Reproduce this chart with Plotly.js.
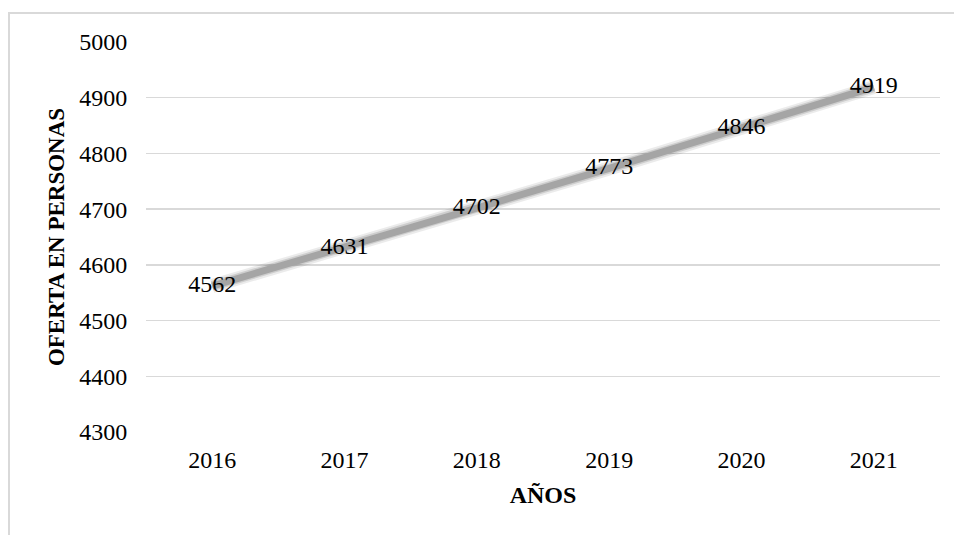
<!DOCTYPE html>
<html>
<head>
<meta charset="utf-8">
<script src="https://cdn.plot.ly/plotly-3.0.1.min.js"></script>
<style>
  html, body { margin: 0; padding: 0; background: #ffffff; }
  #frame { position: absolute; left: 8px; top: 12px; width: 1000px; height: 600px;
           border-left: 2px solid #d9d9d9; border-top: 2px solid #d9d9d9; box-sizing: border-box; }
  #chart { position: absolute; left: 0; top: 0; width: 954px; height: 535px; }
</style>
</head>
<body>
<div id="frame"></div>
<div id="chart"></div>
<script>
const years = ['2016', '2017', '2018', '2019', '2020', '2021'];
const oferta = [4562, 4631, 4702, 4773, 4846, 4919];
const yTicks = [4300, 4400, 4500, 4600, 4700, 4800, 4900, 5000];

const shadow = {
  x: years, y: oferta, type: 'scatter', mode: 'lines',
  line: { color: 'rgba(0,0,0,0.08)', width: 14 },
  hoverinfo: 'skip', showlegend: false
};
const shadow2 = {
  x: years, y: oferta, type: 'scatter', mode: 'lines',
  line: { color: 'rgba(0,0,0,0.12)', width: 10 },
  hoverinfo: 'skip', showlegend: false
};
const main = {
  x: years, y: oferta, type: 'scatter', mode: 'lines+text',
  line: { color: '#a5a5a5', width: 7 },
  text: oferta.map(String), textposition: 'middle center',
  textfont: { family: 'Liberation Serif', size: 24, color: '#000000' },
  showlegend: false
};

const layout = {
  width: 954, height: 535,
  paper_bgcolor: 'rgba(0,0,0,0)', plot_bgcolor: 'rgba(0,0,0,0)',
  margin: { l: 146, r: 14, t: 42, b: 103 },
  font: { family: 'Liberation Serif', size: 24, color: '#000000' },
  xaxis: {
    type: 'category', range: [-0.5, 5.5],
    showgrid: false, zeroline: false, showline: false,
    ticks: 'outside', ticklen: 6, tickcolor: 'rgba(0,0,0,0)',
    tickfont: { family: 'Liberation Serif', size: 24, color: '#000000' },
    title: { text: '<b>AÑOS</b>', standoff: 14,
             font: { family: 'Liberation Serif', size: 24, color: '#000000' } }
  },
  yaxis: {
    range: [4300, 5000], tickvals: yTicks, ticktext: yTicks.map(String),
    showgrid: true, gridcolor: '#d9d9d9', gridwidth: 1.5,
    zeroline: false, showline: false,
    ticks: 'outside', ticklen: 13, tickcolor: 'rgba(0,0,0,0)',
    tickfont: { family: 'Liberation Serif', size: 24, color: '#000000' },
    title: { text: '<b>OFERTA EN PERSONAS</b>', standoff: 8,
             font: { family: 'Liberation Serif', size: 23, color: '#000000' } }
  }
};

Plotly.newPlot('chart', [shadow, shadow2, main], layout, { displayModeBar: false, staticPlot: true });
</script>
</body>
</html>
